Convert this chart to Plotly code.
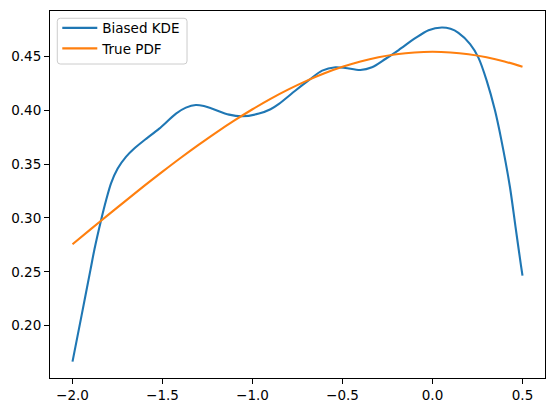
import plotly.graph_objects as go

# Biased KDE
kde_x = [-2.000, -1.950, -1.900, -1.878, -1.841, -1.813, -1.786, -1.749, -1.703, -1.657,
         -1.601, -1.518, -1.425, -1.370, -1.315, -1.270, -1.223, -1.130, -1.057, -0.964,
         -0.900, -0.853, -0.761, -0.687, -0.613, -0.539, -0.484, -0.401, -0.336, -0.262,
         -0.188, -0.096, -0.022, 0.052, 0.100, 0.144, 0.209, 0.255, 0.301, 0.347,
         0.381, 0.430, 0.461, 0.491, 0.500]
kde_y = [0.1665, 0.2090, 0.2520, 0.2710, 0.2982, 0.3167, 0.3322, 0.3460, 0.3568, 0.3645,
         0.3722, 0.3830, 0.3970, 0.4025, 0.4050, 0.4040, 0.4015, 0.3960, 0.3945, 0.3970,
         0.4010, 0.4060, 0.4184, 0.4280, 0.4369, 0.4400, 0.4394, 0.4375, 0.4400, 0.4477,
         0.4560, 0.4670, 0.4745, 0.4770, 0.4757, 0.4720, 0.4616, 0.4490, 0.4276, 0.4000,
         0.3737, 0.3290, 0.2920, 0.2564, 0.2465]

# True PDF
pdf_x = [-2.0, -1.9, -1.8, -1.7, -1.6, -1.5, -1.4, -1.3, -1.2, -1.1, -1.0, -0.9, -0.8,
         -0.7, -0.6, -0.5, -0.4, -0.3, -0.2, -0.1, 0.0, 0.1, 0.2, 0.3, 0.4, 0.5]
pdf_y = [0.2756, 0.2894, 0.3031, 0.3166, 0.3300, 0.3430, 0.3557, 0.3679, 0.3796, 0.3906,
         0.4010, 0.4107, 0.4195, 0.4274, 0.4344, 0.4404, 0.4454, 0.4493, 0.4521, 0.4538,
         0.4544, 0.4538, 0.4521, 0.4493, 0.4454, 0.4404]

x_ticks = [-2.0, -1.5, -1.0, -0.5, 0.0, 0.5]
x_labels = ["\u22122.0", "\u22121.5", "\u22121.0", "\u22120.5", "0.0", "0.5"]
y_ticks = [0.20, 0.25, 0.30, 0.35, 0.40, 0.45]
y_labels = ["0.20", "0.25", "0.30", "0.35", "0.40", "0.45"]

fig = go.Figure()
fig.add_trace(go.Scatter(x=kde_x, y=kde_y, mode="lines", name="Biased KDE",
                         line=dict(color="#1f77b4", width=2.1, shape="spline", smoothing=0.8)))
fig.add_trace(go.Scatter(x=pdf_x, y=pdf_y, mode="lines", name="True PDF",
                         line=dict(color="#ff7f0e", width=2.1, shape="spline", smoothing=0.8)))

axis_common = dict(showgrid=False, zeroline=False, showline=True, linecolor="black",
                   linewidth=1, mirror=True, ticks="outside", ticklen=5, tickwidth=1,
                   tickcolor="black", tickfont=dict(family="DejaVu Sans", size=13.5, color="black"))

# legend frame (rounded box, matplotlib style), in paper coordinates
L, T, W, H = 50.0, 10.0, 496.0, 369.0
def px(x):
    return (x - L) / W
def py(y):
    return 1 - (y - T) / H
bx0, bx1, by0, by1 = px(57.3), px(187.3), py(17.3), py(63.3)
rx, ry = 3 / W, 3 / H
frame = (f"M{bx0+rx},{by0} L{bx1-rx},{by0} Q{bx1},{by0} {bx1},{by0-ry} "
         f"L{bx1},{by1+ry} Q{bx1},{by1} {bx1-rx},{by1} L{bx0+rx},{by1} "
         f"Q{bx0},{by1} {bx0},{by1+ry} L{bx0},{by0-ry} Q{bx0},{by0} {bx0+rx},{by0} Z")

fig.update_layout(
    width=556, height=413,
    margin=dict(l=50, r=10, t=10, b=34),
    paper_bgcolor="white", plot_bgcolor="white",
    showlegend=True,
    shapes=[dict(type="path", xref="paper", yref="paper", path=frame,
                 fillcolor="rgba(255,255,255,0.8)", line=dict(color="#cccccc", width=1),
                 layer="above")],
    legend=dict(x=px(57.3), y=py(11.6), xanchor="left", yanchor="top",
                bgcolor="rgba(0,0,0,0)", borderwidth=0, itemwidth=35,
                font=dict(family="DejaVu Sans", size=13.5, color="black"),
                tracegroupgap=0),
    xaxis=dict(range=[-2.125, 0.625], tickvals=x_ticks, ticktext=x_labels, **axis_common),
    yaxis=dict(range=[0.1513, 0.4923], tickvals=y_ticks, ticktext=y_labels, **axis_common),
)

fig.write_html("out.html")
